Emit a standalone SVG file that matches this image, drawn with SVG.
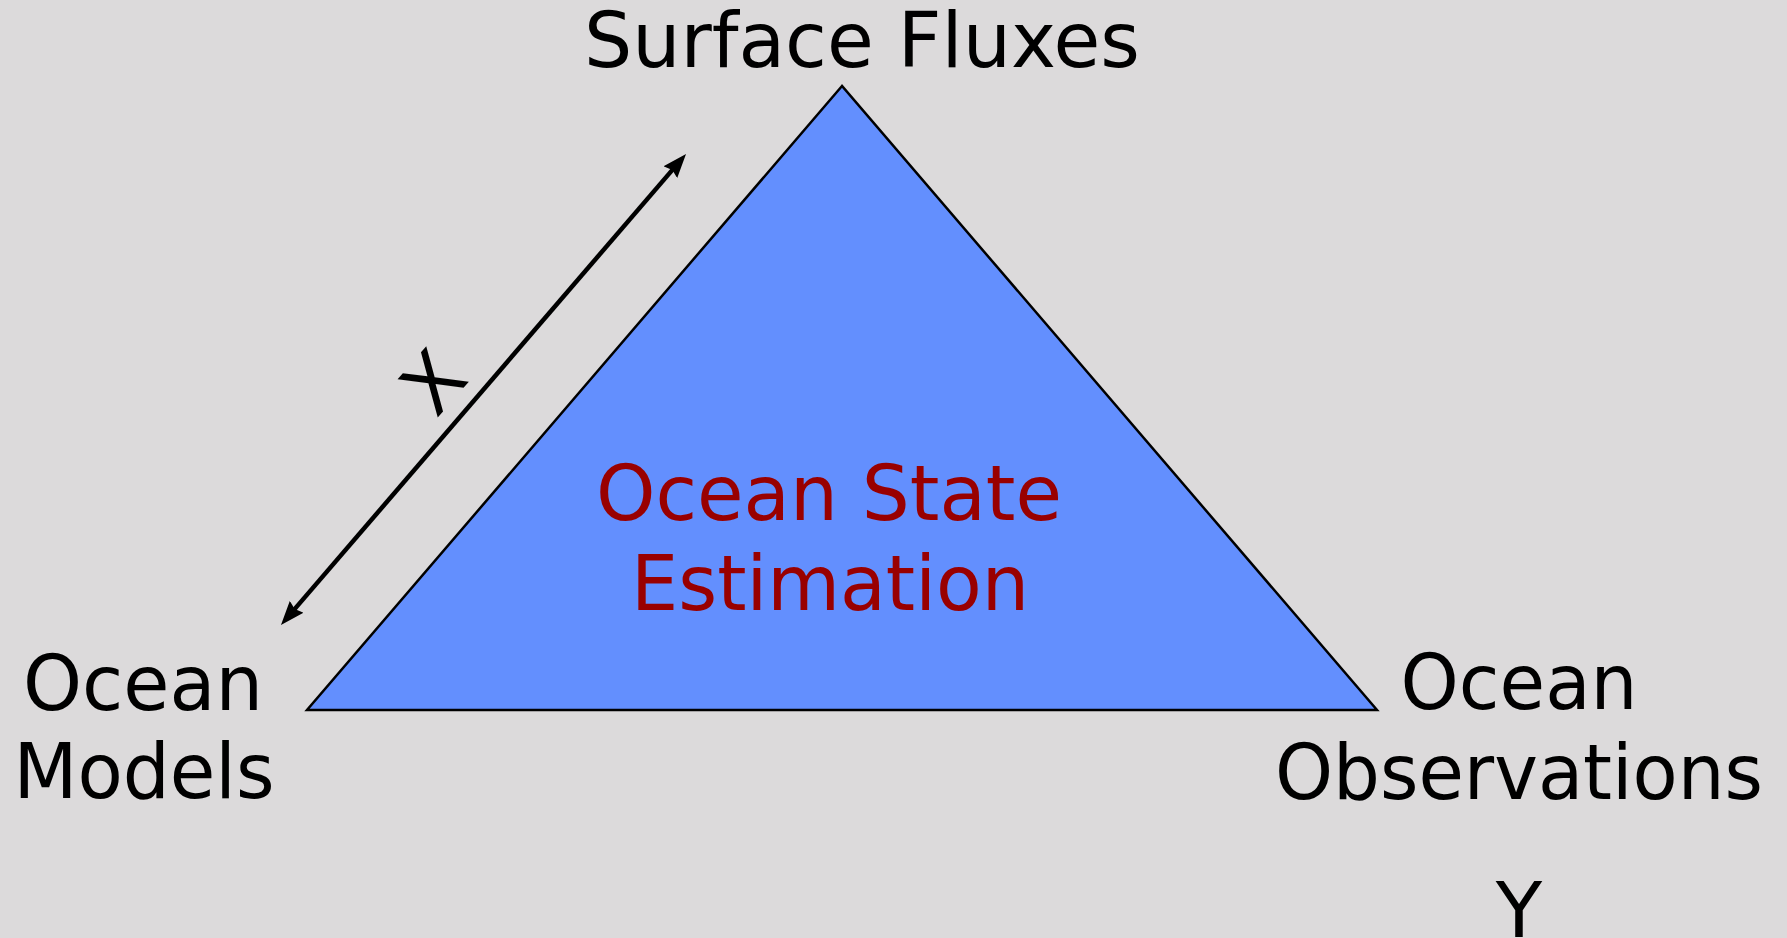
<svg xmlns="http://www.w3.org/2000/svg" width="1787" height="938" viewBox="0 0 1787 938">
<style>
.lbl{font-family:"DejaVu Sans","Liberation Sans",sans-serif;font-size:76px;fill:#000;text-anchor:middle}
.mid{font-family:"DejaVu Sans","Liberation Sans",sans-serif;font-size:76px;fill:#990000;text-anchor:middle}
</style>
<defs>
<marker id="ah" viewBox="0 0 24 18" refX="12" refY="9" markerWidth="24" markerHeight="18" markerUnits="userSpaceOnUse" orient="auto-start-reverse">
<path d="M0,0 L24,9 L0,18 L3,9 Z" fill="#000"/>
</marker>
</defs>
<rect width="1787" height="938" fill="#dcdadb"/>
<g id="triangle">
<polygon points="842,86 307,710 1377,710" fill="#638ffe" stroke="#000" stroke-width="2.5" stroke-linejoin="miter"/>
<text class="mid" x="829" y="520" textLength="466" lengthAdjust="spacingAndGlyphs">Ocean State</text>
<text class="mid" x="830" y="610" textLength="398" lengthAdjust="spacingAndGlyphs">Estimation</text>
</g>
<g id="surface-fluxes">
<text class="lbl" x="862" y="67" textLength="556" lengthAdjust="spacingAndGlyphs">Surface Fluxes</text>
</g>
<g id="ocean-models">
<text class="lbl" x="143" y="710" textLength="240" lengthAdjust="spacingAndGlyphs">Ocean</text>
<text class="lbl" x="144" y="798" textLength="261" lengthAdjust="spacingAndGlyphs">Models</text>
</g>
<g id="ocean-observations">
<text class="lbl" x="1519" y="709" textLength="237" lengthAdjust="spacingAndGlyphs">Ocean</text>
<text class="lbl" x="1519" y="799" textLength="488" lengthAdjust="spacingAndGlyphs">Observations</text>
<text class="lbl" x="1519" y="937">Y</text>
</g>
<g id="connectors">
<line x1="288.8" y1="615.9" x2="678.2" y2="163.1" stroke="#000" stroke-width="4.5" marker-start="url(#ah)" marker-end="url(#ah)"/>
<text class="lbl" x="0" y="0" transform="translate(433,382) rotate(-49) translate(0,27)">X</text>
</g>
</svg>
